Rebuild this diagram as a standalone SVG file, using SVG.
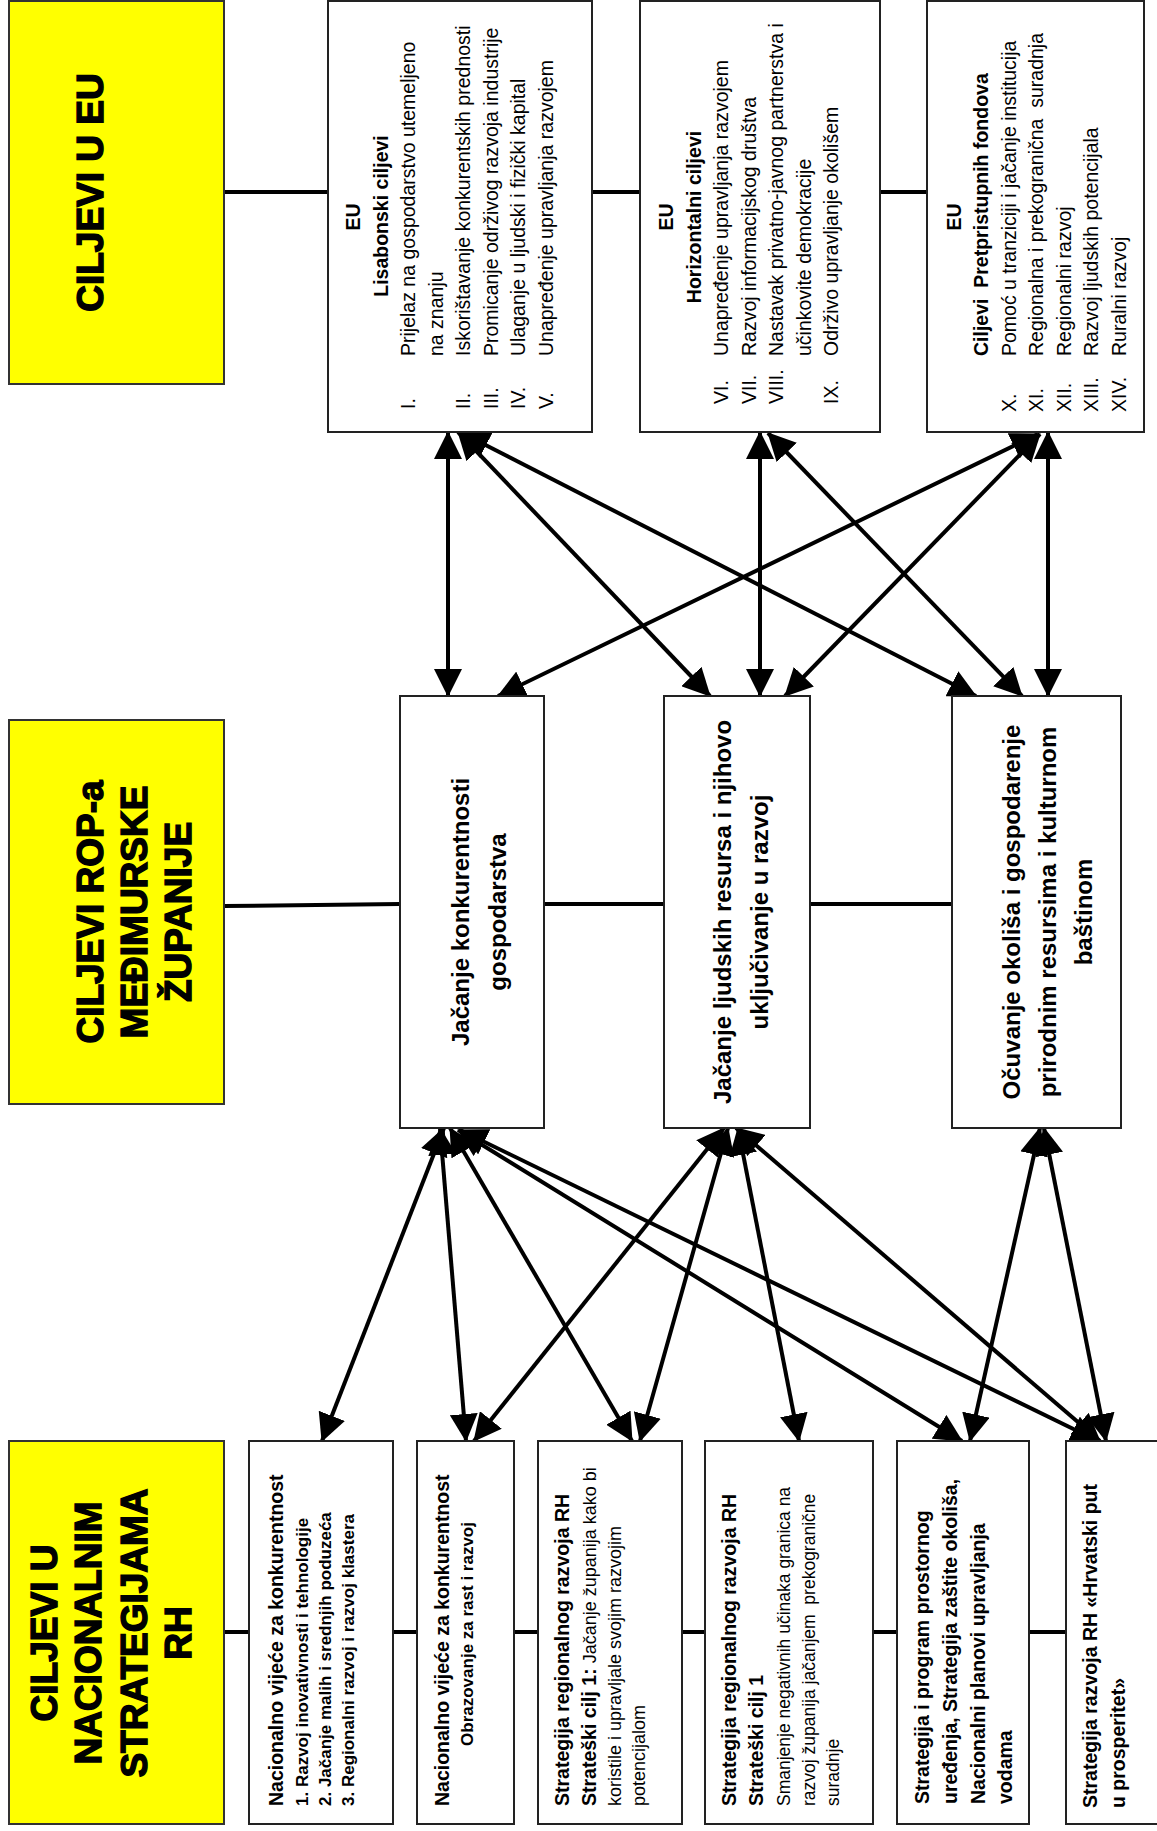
<svg xmlns="http://www.w3.org/2000/svg" width="1157" height="1831" viewBox="0 0 1157 1831">
<style>
.box{fill:#fff;stroke:#222;stroke-width:2}
.ybox{fill:#ffff00;stroke:#333;stroke-width:2}
.conn{stroke:#000;stroke-width:4;fill:none}
.arr{stroke:#000;stroke-width:4;fill:none;marker-start:url(#ah);marker-end:url(#ah)}
text{font-family:"Liberation Sans",Arial,sans-serif;fill:#000}
.yt{font-weight:bold;font-size:37px;stroke:#000;stroke-width:1.4;text-anchor:middle}
.t{font-size:19.5px}
.s{font-size:18px}
.s17{font-size:17.5px}
.b{font-weight:bold}
.m{text-anchor:middle}
.big{font-size:24px;font-weight:bold;text-anchor:middle}
.sb{font-size:17px;font-weight:bold}
</style>
<defs>
<marker id="ah" markerUnits="userSpaceOnUse" markerWidth="28" markerHeight="28" viewBox="0 0 28 28" refX="27" refY="14" orient="auto-start-reverse"><path d="M0,0L28,14L0,28z" fill="#000"/></marker>
</defs>

<g id="connectors">
<line class="conn" x1="224" y1="192" x2="328" y2="192"/>
<line class="conn" x1="592" y1="192" x2="640" y2="192"/>
<line class="conn" x1="880" y1="192" x2="927" y2="192"/>
<line class="conn" x1="224" y1="906" x2="400" y2="904"/>
<line class="conn" x1="544" y1="904" x2="664" y2="904"/>
<line class="conn" x1="810" y1="904" x2="952" y2="904"/>
<line class="conn" x1="224" y1="1632" x2="249" y2="1632"/>
<line class="conn" x1="393" y1="1632" x2="417" y2="1632"/>
<line class="conn" x1="514" y1="1632" x2="538" y2="1632"/>
<line class="conn" x1="682" y1="1632" x2="705" y2="1632"/>
<line class="conn" x1="873" y1="1632" x2="897" y2="1632"/>
<line class="conn" x1="1029" y1="1632" x2="1066" y2="1632"/>
<line class="arr" x1="448" y1="432" x2="448" y2="696"/>
<line class="arr" x1="458" y1="432" x2="710" y2="696"/>
<line class="arr" x1="462" y1="433" x2="976" y2="696"/>
<line class="arr" x1="1038" y1="434" x2="498" y2="696"/>
<line class="arr" x1="760" y1="432" x2="760" y2="696"/>
<line class="arr" x1="768" y1="433" x2="1022" y2="696"/>
<line class="arr" x1="1040" y1="434" x2="785" y2="696"/>
<line class="arr" x1="1048" y1="432" x2="1048" y2="696"/>
<line class="arr" x1="444" y1="1128" x2="322" y2="1441"/>
<line class="arr" x1="440" y1="1128" x2="466" y2="1441"/>
<line class="arr" x1="450" y1="1128" x2="632" y2="1441"/>
<line class="arr" x1="458" y1="1130" x2="962" y2="1441"/>
<line class="arr" x1="460" y1="1130" x2="1098" y2="1441"/>
<line class="arr" x1="728" y1="1128" x2="640" y2="1441"/>
<line class="arr" x1="724" y1="1128" x2="474" y2="1441"/>
<line class="arr" x1="738" y1="1128" x2="799" y2="1441"/>
<line class="arr" x1="736" y1="1128" x2="1100" y2="1441"/>
<line class="arr" x1="1040" y1="1128" x2="970" y2="1441"/>
<line class="arr" x1="1044" y1="1128" x2="1106" y2="1441"/>
</g>

<g id="ciljevi-eu">
<rect class="ybox" x="9" y="1" width="215" height="383"/>
<g transform="rotate(-90)"><text class="yt" x="-192.5" y="102.6">CILJEVI U EU</text></g>
</g>

<g id="lisabonski">
<rect class="box" x="328" y="1" width="264" height="431"/>
<g transform="rotate(-90)" class="t">
<text class="b m" x="-217" y="360">EU</text>
<text class="b m" x="-216" y="387.5">Lisabonski ciljevi</text>
<text x="-409" y="415">I.</text><text x="-356" y="415">Prijelaz na gospodarstvo utemeljeno</text>
<text x="-356" y="442.5">na znanju</text>
<text x="-409" y="470">II.</text><text x="-356" y="470">Iskorištavanje konkurentskih prednosti</text>
<text x="-409" y="497.5">III.</text><text x="-356" y="497.5">Promicanje održivog razvoja industrije</text>
<text x="-409" y="525">IV.</text><text x="-356" y="525">Ulaganje u ljudski i fizički kapital</text>
<text x="-409" y="552.5">V.</text><text x="-356" y="552.5">Unapređenje upravljanja razvojem</text>
</g>
</g>

<g id="horizontalni">
<rect class="box" x="640" y="1" width="240" height="431"/>
<g transform="rotate(-90)" class="t">
<text class="b m" x="-217" y="673">EU</text>
<text class="b m" x="-217" y="700.5">Horizontalni ciljevi</text>
<text x="-404" y="728">VI.</text><text x="-356" y="728">Unapređenje upravljanja razvojem</text>
<text x="-404" y="755.5">VII.</text><text x="-356" y="755.5">Razvoj informacijskog društva</text>
<text x="-404" y="783">VIII.</text><text x="-356" y="783">Nastavak privatno-javnog partnerstva i</text>
<text x="-356" y="810.5">učinkovite demokracije</text>
<text x="-404" y="838">IX.</text><text x="-356" y="838">Održivo upravljanje okolišem</text>
</g>
</g>

<g id="pretpristupni">
<rect class="box" x="927" y="1" width="217" height="431"/>
<g transform="rotate(-90)" class="t">
<text class="b m" x="-217" y="960.5">EU</text>
<text class="b" x="-356" y="988" xml:space="preserve">Ciljevi  Pretpristupnih fondova</text>
<text x="-412" y="1015.5">X.</text><text x="-356" y="1015.5">Pomoć u tranziciji i jačanje institucija</text>
<text x="-412" y="1043">XI.</text><text x="-356" y="1043" xml:space="preserve">Regionalna i prekogranična  suradnja</text>
<text x="-412" y="1070.5">XII.</text><text x="-356" y="1070.5">Regionalni razvoj</text>
<text x="-412" y="1098">XIII.</text><text x="-356" y="1098">Razvoj ljudskih potencijala</text>
<text x="-412" y="1125.5">XIV.</text><text x="-356" y="1125.5">Ruralni razvoj</text>
</g>
</g>

<g id="ciljevi-rop">
<rect class="ybox" x="9" y="720" width="215" height="384"/>
<g transform="rotate(-90)">
<text class="yt" x="-912" y="102.6">CILJEVI ROP-a</text>
<text class="yt" x="-912" y="147">MEĐIMURSKE</text>
<text class="yt" x="-912" y="190.5">ŽUPANIJE</text>
</g>
</g>

<g id="konkurentnost">
<rect class="box" x="400" y="696" width="144" height="432"/>
<g transform="rotate(-90)">
<text class="big" x="-912" y="469">Jačanje konkurentnosti</text>
<text class="big" x="-912" y="506">gospodarstva</text>
</g>
</g>

<g id="ljudski-resursi">
<rect class="box" x="664" y="696" width="146" height="432"/>
<g transform="rotate(-90)">
<text class="big" x="-912" y="731">Jačanje ljudskih resursa i njihovo</text>
<text class="big" x="-912" y="768">uključivanje u razvoj</text>
</g>
</g>

<g id="okolis">
<rect class="box" x="952" y="696" width="169" height="432"/>
<g transform="rotate(-90)">
<text class="big" x="-912" y="1020">Očuvanje okoliša i gospodarenje</text>
<text class="big" x="-912" y="1056">prirodnim resursima i kulturnom</text>
<text class="big" x="-912" y="1092">baštinom</text>
</g>
</g>

<g id="ciljevi-nacionalne">
<rect class="ybox" x="9" y="1441" width="215" height="383"/>
<g transform="rotate(-90)">
<text class="yt" x="-1633" y="57.4">CILJEVI U</text>
<text class="yt" x="-1633" y="101.4">NACIONALNIM</text>
<text class="yt" x="-1633" y="146.6">STRATEGIJAMA</text>
<text class="yt" x="-1633" y="190.6">RH</text>
</g>
</g>

<g id="nvk-1">
<rect class="box" x="249" y="1441" width="144" height="383"/>
<g transform="rotate(-90)">
<text class="t b" x="-1806" y="282.5">Nacionalno vijeće za konkurentnost</text>
<text class="sb" x="-1806" y="308">1. Razvoj inovativnosti i tehnologije</text>
<text class="sb" x="-1806" y="331">2. Jačanje malih i srednjih poduzeća</text>
<text class="sb" x="-1806" y="354">3. Regionalni razvoj i razvoj klastera</text>
</g>
</g>

<g id="nvk-2">
<rect class="box" x="417" y="1441" width="97" height="383"/>
<g transform="rotate(-90)">
<text class="t b" x="-1806" y="448.5">Nacionalno vijeće za konkurentnost</text>
<text class="sb m" x="-1634" y="473">Obrazovanje za rast i razvoj</text>
</g>
</g>

<g id="srr-1">
<rect class="box" x="538" y="1441" width="144" height="383"/>
<g transform="rotate(-90)">
<text class="t b" x="-1806" y="569">Strategija regionalnog razvoja RH</text>
<text class="s" x="-1806" y="596"><tspan class="t b">Strateški cilj 1:</tspan> Jačanje županija kako bi</text>
<text class="s" x="-1806" y="621">koristile i upravljale svojim razvojim</text>
<text class="s" x="-1806" y="645">potencijalom</text>
</g>
</g>

<g id="srr-2">
<rect class="box" x="705" y="1441" width="168" height="383"/>
<g transform="rotate(-90)">
<text class="t b" x="-1806" y="736">Strategija regionalnog razvoja RH</text>
<text class="t b" x="-1806" y="763">Strateški cilj 1</text>
<text class="s17" x="-1806" y="790">Smanjenje negativnih učinaka granica na</text>
<text class="s17" x="-1806" y="815" xml:space="preserve">razvoj županija jačanjem  prekogranične</text>
<text class="s17" x="-1806" y="839">suradnje</text>
</g>
</g>

<g id="prostorno">
<rect class="box" x="897" y="1441" width="132" height="383"/>
<g transform="rotate(-90)" class="t b">
<text x="-1804" y="929">Strategija i program prostornog</text>
<text x="-1804" y="957">uređenja, Strategija zaštite okoliša,</text>
<text x="-1804" y="985">Nacionalni planovi upravljanja</text>
<text x="-1804" y="1012">vodama</text>
</g>
</g>

<g id="hrvatski-put">
<rect class="box" x="1066" y="1441" width="120" height="383"/>
<g transform="rotate(-90)" class="t b">
<text x="-1808" y="1097">Strategija razvoja RH «Hrvatski put</text>
<text x="-1808" y="1125">u prosperitet»</text>
</g>
</g>
</svg>
